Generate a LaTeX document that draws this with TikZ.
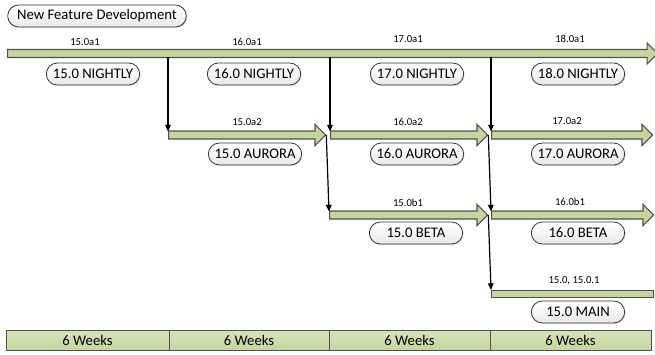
\documentclass[tikz,border=0pt]{standalone}
\usepackage{fontspec}
\setmainfont{Carlito}
\usepackage{tikz}
\usetikzlibrary{positioning,calc,arrows.meta,shapes.arrows,shadows}
\definecolor{relgreen}{RGB}{196,214,158}
\definecolor{relline}{RGB}{80,80,80}
\definecolor{pillline}{RGB}{50,50,50}
\tikzset{
  relarrow/.style={single arrow,draw=relline,fill=relgreen,thick,anchor=west,
                   inner sep=0pt,text height=0pt,text depth=0pt,inner ysep=2.6pt,
                   single arrow head extend=4.9pt,single arrow tip angle=90},
  relbar/.style={rectangle,draw=relline,fill=relgreen,thick,anchor=west,inner sep=0pt,
                 minimum height=5.25pt},
  pill/.style={rectangle,rounded corners=8.25pt,draw=pillline,line width=0.6pt,top color=white,
               bottom color=gray!18,minimum width=70pt,minimum height=16.5pt,inner xsep=2pt,
               font=\fontsize{11}{13}\selectfont,
               drop shadow={opacity=0.25,shadow xshift=0.7pt,shadow yshift=-0.7pt}},
  vlabel/.style={font=\fontsize{8}{9}\selectfont,inner sep=1pt},
  weekcell/.style={rectangle,draw=relline,top color=relgreen!70!white,bottom color=relgreen,
                   minimum height=15pt,inner sep=0pt,font=\fontsize{11}{13}\selectfont},
  merge/.style={-{Triangle[length=5pt,width=4.2pt]},line width=0.9pt},
}
\begin{document}
\begin{tikzpicture}[x=0.75pt,y=-0.75pt]
  \useasboundingbox (0,0) rectangle (655,354);
  % ---- title ----
  \node[pill,minimum width=134pt] (nfd) at (97,16) {New Feature Development};
  % ---- release trains ----
  \node[relarrow,minimum height=487.5pt] (nig) at (7,53.5) {};
  \node[relarrow,minimum height=117.75pt] (aur15) at (168,135) {};
  \node[relarrow,minimum height=117.75pt] (aur16) at (330,135) {};
  \node[relarrow,minimum height=120.75pt] (aur17) at (491,135) {};
  \node[relarrow,minimum height=118.5pt] (bet15) at (329,215) {};
  \node[relarrow,minimum height=121.5pt] (bet16) at (491,215) {};
  \node[relbar,minimum width=121.5pt] (main15) at (491,294) {};
  % ---- version labels ----
  \node[vlabel] (v15a1) at (85,42) {15.0a1};
  \node[vlabel] (v16a1) at (247,42) {16.0a1};
  \node[vlabel] (v17a1) at (408,39) {17.0a1};
  \node[vlabel] (v18a1) at (570,39) {18.0a1};
  \node[vlabel] (v15a2) at (247,122) {15.0a2};
  \node[vlabel] (v16a2) at (408,122) {16.0a2};
  \node[vlabel] (v17a2) at (567,121) {17.0a2};
  \node[vlabel] (v15b1) at (408,203) {15.0b1};
  \node[vlabel] (v16b1) at (570,202) {16.0b1};
  \node[vlabel] (v15rel) at (574,281) {15.0, 15.0.1};
  % ---- channel names ----
  \node[pill] (n15) at (93,74) {15.0 NIGHTLY};
  \node[pill] (n16) at (254,74) {16.0 NIGHTLY};
  \node[pill] (n17) at (417,74) {17.0 NIGHTLY};
  \node[pill] (n18) at (578,74) {18.0 NIGHTLY};
  \node[pill] (a15) at (255,154) {15.0 AURORA};
  \node[pill] (a16) at (417,154) {16.0 AURORA};
  \node[pill] (a17) at (578,154) {17.0 AURORA};
  \node[pill] (b15) at (416,233) {15.0 BETA};
  \node[pill] (b16) at (578,233) {16.0 BETA};
  \node[pill] (m15) at (578,312) {15.0 MAIN};
  % ---- 6 week cycles ----
  \node[weekcell,minimum width=122.25pt] (wk1) at (87.5,340) {6 Weeks};
  \node[weekcell,minimum width=120pt] (wk2) at (249,340) {6 Weeks};
  \node[weekcell,minimum width=120.75pt] (wk3) at (409.5,340) {6 Weeks};
  \node[weekcell,minimum width=120.75pt] (wk4) at (570.5,340) {6 Weeks};
  % ---- merges ----
  \coordinate (cut15) at ($(nig.west -| aur15.west)+(0,3.5)$);
  \coordinate (cut16) at ($(nig.west -| aur16.west)+(0,3.5)$);
  \coordinate (cut17) at ($(nig.west -| aur17.west)+(0,3.5)$);
  \draw[merge] (cut15) -- ($(aur15.west)+(0,-3.5)$);
  \draw[merge] (cut16) -- ($(aur16.west)+(0,-3.5)$);
  \draw[merge] (cut17) -- ($(aur17.west)+(0,-3.5)$);
  \draw[merge] (aur15.tip) -- ($(bet15.west)+(0,-3.5)$);
  \draw[merge] (aur16.tip) -- ($(bet16.west)+(0,-3.5)$);
  \draw[merge] (bet15.tip) -- (main15.north west);
\end{tikzpicture}
\end{document}
